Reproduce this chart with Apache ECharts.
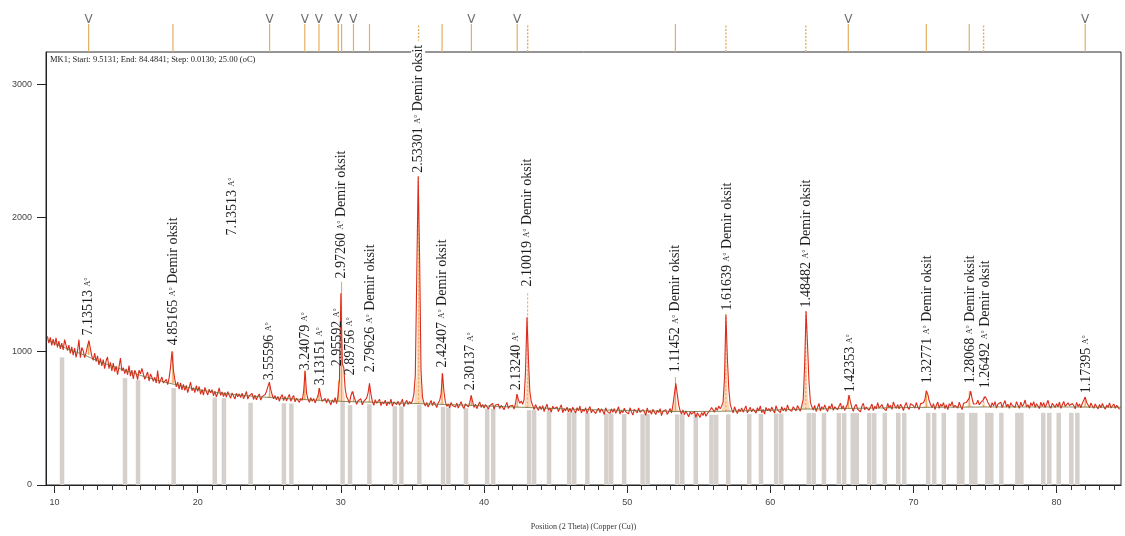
<!DOCTYPE html>
<html>
<head>
<meta charset="utf-8">
<script src="https://cdn.jsdelivr.net/npm/echarts@6/dist/echarts.min.js"></script>
<style>
  html, body { margin: 0; padding: 0; background: #fff; }
  #c { width: 1125px; height: 536px; }
</style>
</head>
<body>
<div id="c"></div>
<script>
// ---- scan: MK1, Cu radiation, counts every 0.1 degree 2-theta ----
const scanStart = 9.5;
const scanStep = 0.1;
const counts = [
  1112, 1062, 1104, 1045, 1092,
  1044, 1101, 1029, 1076, 1018, 1061, 1011, 1088, 1046, 1005,   // 10
  1047, 985, 1033, 971, 1025, 955, 1001, 1089, 953, 1029,       // 11
  1005, 953, 989, 1040, 1080, 1020, 965, 933, 987, 923,         // 12
  966, 898, 948, 892, 938, 870, 930, 958, 870, 918,             // 13
  854, 912, 849, 889, 826, 884, 950, 853, 878, 834,             // 14
  869, 825, 894, 814, 859, 793, 858, 834, 789, 859,             // 15
  832, 873, 862, 790, 786, 845, 778, 831, 806, 775,             // 16
  806, 763, 856, 760, 761, 808, 763, 753, 790, 751,             // 17
  800, 880, 1000, 860, 790, 735, 770, 718, 765, 712,            // 18
  752, 708, 745, 691, 731, 769, 706, 728, 692, 743,             // 19
  701, 737, 679, 715, 672, 730, 700, 674, 717, 689,             // 20
  713, 668, 702, 659, 688, 726, 671, 696, 662, 692,             // 21
  657, 698, 671, 650, 689, 666, 643, 686, 661, 682,             // 22
  654, 687, 646, 671, 700, 643, 669, 656, 685, 640,             // 23
  673, 638, 663, 681, 636, 661, 652, 676, 700, 702,             // 24
  770, 715, 675, 645, 669, 637, 663, 627, 659, 677,             // 25
  632, 663, 629, 654, 678, 627, 651, 670, 622, 649,             // 26
  662, 618, 647, 632, 700, 855, 690, 643, 619, 653,             // 27
  626, 648, 614, 641, 668, 725, 662, 626, 612, 648,             // 28
  613, 646, 625, 599, 637, 617, 653, 608, 668, 782,             // 29
  1435, 905, 880, 720, 660, 640, 612, 668, 700, 668,            // 30
  635, 603, 630, 616, 645, 600, 626, 612, 650, 690,             // 31
  760, 680, 625, 596, 638, 612, 602, 642, 594, 622,             // 32
  607, 635, 593, 623, 605, 642, 590, 621, 633, 602,             // 33
  626, 596, 618, 642, 587, 615, 633, 602, 624, 608,             // 34
  630, 680, 820, 1550, 2310, 1700, 850, 660, 615, 590,          // 35
  617, 583, 609, 633, 594, 623, 602, 580, 614, 632,             // 36
  680, 835, 700, 620, 588, 607, 578, 618, 594, 606,             // 37
  584, 612, 576, 600, 624, 590, 572, 608, 597, 584,             // 38
  614, 670, 628, 580, 605, 571, 598, 622, 580, 602,             // 39
  576, 602, 614, 569, 593, 583, 611, 567, 599, 588,             // 40
  604, 572, 596, 583, 563, 594, 618, 573, 591, 580,             // 41
  596, 568, 612, 680, 640, 612, 628, 605, 640, 850,             // 42
  1255, 950, 700, 625, 595, 565, 602, 578, 558, 590,            // 43
  564, 594, 550, 580, 605, 558, 576, 546, 590, 570,             // 44
  558, 584, 549, 577, 600, 541, 571, 555, 583, 548,             // 45
  572, 544, 583, 557, 539, 578, 555, 591, 539, 567,             // 46
  551, 579, 536, 567, 587, 540, 563, 577, 534, 558,             // 47
  574, 542, 570, 555, 528, 578, 551, 563, 536, 570,             // 48
  544, 572, 536, 560, 585, 531, 558, 541, 574, 548,             // 49
  562, 532, 578, 547, 523, 567, 554, 540, 576, 544,             // 50
  532, 564, 548, 521, 576, 541, 556, 530, 566, 547,             // 51
  527, 559, 543, 571, 519, 552, 538, 564, 528, 548,             // 52
  572, 540, 600, 680, 760, 680, 600, 555, 530, 562,             // 53
  526, 554, 540, 510, 546, 530, 520, 550, 506, 540,             // 54
  530, 506, 542, 520, 550, 514, 534, 525, 561, 580,             // 55
  568, 545, 580, 558, 592, 570, 590, 620, 800, 1275,            // 56
  950, 720, 605, 568, 540, 585, 557, 535, 568, 549,             // 57
  577, 545, 568, 592, 540, 561, 581, 547, 571, 557,             // 58
  538, 578, 554, 592, 541, 565, 531, 581, 557, 572,             // 59
  550, 583, 560, 538, 594, 563, 572, 541, 586, 556,             // 60
  577, 549, 600, 566, 579, 551, 586, 570, 554, 594,             // 61
  580, 552, 596, 640, 900, 1300, 1050, 780, 620, 585,           // 62
  561, 595, 550, 580, 611, 554, 586, 566, 600, 570,             // 63
  550, 590, 573, 609, 559, 585, 598, 565, 578, 612,             // 64
  568, 594, 558, 584, 608, 672, 620, 578, 552, 588,             // 65
  603, 567, 579, 547, 591, 611, 563, 583, 597, 559,             // 66
  582, 606, 556, 590, 570, 616, 576, 562, 602, 574,             // 67
  586, 556, 610, 578, 596, 566, 622, 590, 574, 602,             // 68
  569, 605, 585, 557, 593, 617, 581, 565, 609, 620,             // 69
  593, 575, 617, 585, 565, 609, 595, 615, 640, 705,             // 70
  680, 630, 600, 580, 609, 565, 597, 621, 574, 605,             // 71
  588, 616, 572, 600, 564, 608, 592, 624, 580, 596,             // 72
  604, 576, 620, 588, 564, 612, 600, 618, 630, 650,             // 73
  702, 645, 606, 592, 608, 634, 600, 616, 625, 640,             // 74
  662, 645, 618, 604, 580, 616, 592, 624, 576, 604,             // 75
  594, 620, 580, 608, 632, 584, 604, 574, 616, 596,             // 76
  608, 580, 624, 596, 574, 620, 588, 604, 636, 584,             // 77
  600, 574, 616, 592, 624, 580, 608, 594, 572, 620,             // 78
  588, 616, 580, 604, 634, 590, 574, 612, 596, 580,             // 79
  609, 585, 621, 573, 601, 625, 589, 577, 615, 595,             // 80
  582, 610, 594, 570, 618, 586, 606, 578, 612, 625,             // 81
  658, 618, 598, 578, 614, 590, 574, 606, 586, 570,             // 82
  602, 578, 610, 586, 566, 598, 582, 614, 576, 590,             // 83
  606, 574, 596, 582, 566                                       // 84
];

// ---- fitted background ----
const backgroundPos = [9.5, 10, 11, 12, 13, 14, 15, 16, 17, 18, 19, 20, 21, 22, 23, 24, 25, 26, 27, 28, 29, 30,
  32, 34, 36, 38, 40, 42, 44, 46, 48, 50, 52, 54, 56, 58, 60, 62, 64, 66, 68, 70, 72, 74, 76, 78, 80, 82, 84.5];
const backgroundCounts = [1085, 1060, 1015, 975, 930, 890, 855, 820, 790, 762, 738, 715, 697, 683, 672, 663, 655, 648, 642, 636, 631, 626,
  620, 614, 607, 600, 592, 584, 576, 568, 562, 558, 553, 550, 551, 555, 560, 567, 570, 574, 577, 580, 582, 583, 584, 584, 584, 583, 582];

// ---- identified peaks: position (2θ), fitted top, local background, half base width, marker kind ----
const peakPos       = [12.38, 18.27, 25.02, 27.48, 28.47, 29.82, 30.05, 30.88, 32.00, 35.43, 37.07, 39.12, 42.32, 43.05, 53.37, 56.90, 62.48, 65.45, 70.90, 73.90, 74.90, 82.00];
const peakTop       = [1080, 1000, 770, 855, 725, 782, 1520, 700, 760, 2310, 835, 670, 680, 1445, 808, 1276, 1300, 672, 705, 702, 662, 658];
const peakBase      = [975, 760, 655, 639, 634, 627, 626, 622, 620, 610, 604, 595, 582, 580, 551, 552, 568, 572, 580, 583, 584, 583];
const peakHalfWidth = [0.15, 0.2, 0.2, 0.15, 0.15, 0.15, 0.25, 0.15, 0.15, 0.3, 0.15, 0.15, 0.15, 0.25, 0.25, 0.3, 0.3, 0.2, 0.25, 0.25, 0.25, 0.2];
const peakKind      = ['v', 'solid', 'v', 'v', 'v', 'v', 'solid', 'v', 'solid', 'dot', 'solid', 'v', 'v', 'dot', 'solid', 'dot', 'dot', 'v', 'solid', 'solid', 'dot', 'v'];

// ---- peak annotations: position, anchor height, d-spacing, phase ----
const labelPos   = [12.36, 18.27, 22.40, 24.98, 27.50, 28.55, 29.74, 30.02, 30.64, 32.04, 35.40, 37.07, 39.05, 42.24, 43.01, 53.40, 56.97, 62.51, 65.56, 70.96, 73.97, 75.02, 82.06];
const labelAt    = [1119, 1045, 1866, 784, 858, 746, 888, 1545, 821, 843, 2336, 880, 709, 709, 1485, 843, 1306, 1328, 694, 761, 761, 724, 687];
const labelD     = ['7.13513', '4.85165', '7.13513', '3.55596', '3.24079', '3.13151', '2.95592', '2.97260', '2.89756', '2.79626', '2.53301', '2.42407',
  '2.30137', '2.13240', '2.10019', '1.11452', '1.61639', '1.48482', '1.42353', '1.32771', '1.28068', '1.26492', '1.17395'];
const labelPhase = ['', 'Demir oksit', '', '', '', '', '', 'Demir oksit', '', 'Demir oksit', 'Demir oksit', 'Demir oksit',
  '', '', 'Demir oksit', 'Demir oksit', 'Demir oksit', 'Demir oksit', '', 'Demir oksit', 'Demir oksit', 'Demir oksit', ''];

// ---- reference pattern sticks ----
const stickPos = [10.52, 14.92, 15.83, 18.32, 21.19, 21.83, 23.69, 26.02, 26.54, 30.12, 30.64, 31.99, 33.77, 34.23, 35.48,
  37.14, 37.51, 38.74, 40.22, 40.64, 43.15, 43.50, 44.54, 45.95, 46.30, 47.22, 48.55, 48.88, 49.79, 51.08, 51.43,
  53.50, 53.85, 54.79, 55.89, 56.22, 57.06, 58.53, 59.35, 60.41, 60.76, 62.69, 63.03, 63.75, 64.79, 65.16, 65.76, 66.04,
  66.91, 67.26, 68.00, 68.94, 69.36, 71.03, 71.45, 72.12, 73.18, 73.42, 74.04, 74.32, 75.16, 75.44, 76.14, 77.26, 77.54,
  79.07, 79.49, 80.15, 81.03, 81.45];
const stickCounts = [955, 800, 785, 725, 655, 650, 615, 612, 610, 625, 598, 605, 590, 588, 600,
  585, 580, 575, 572, 570, 560, 560, 553, 545, 545, 540, 535, 535, 532, 530, 530,
  528, 528, 525, 525, 525, 528, 530, 532, 535, 535, 538, 538, 538, 538, 538, 538, 538,
  538, 538, 540, 540, 540, 540, 540, 540, 540, 540, 540, 540, 540, 540, 540, 540, 540,
  540, 540, 540, 540, 540];

// ---- axes ----
const xTickLabels = [10, 20, 30, 40, 50, 60, 70, 80];
const xMinorTicks = [10, 11, 12, 13, 14, 15, 16, 17, 18, 19, 20, 21, 22, 23, 24, 25, 26, 27, 28, 29, 30, 31, 32, 33, 34, 35, 36, 37, 38, 39,
  40, 41, 42, 43, 44, 45, 46, 47, 48, 49, 50, 51, 52, 53, 54, 55, 56, 57, 58, 59, 60, 61, 62, 63, 64, 65, 66, 67, 68, 69,
  70, 71, 72, 73, 74, 75, 76, 77, 78, 79, 80, 81, 82, 83, 84];
const yTickLabels = [0, 1000, 2000, 3000];
const xMin = 9.4, xMax = 84.5, yMax = 3240;

const SERIF = '"Liberation Serif", "Times New Roman", serif';
const NARROW = '"Liberation Sans Narrow", "Liberation Sans", Arial, sans-serif';

const measureCtx = document.createElement('canvas').getContext('2d');
function textWidth(str, size) {
  measureCtx.font = size + 'px ' + SERIF;
  return measureCtx.measureText(str).width;
}

const chart = echarts.init(document.getElementById('c'), null, { renderer: 'canvas' });

const option = {
  animation: false,
  backgroundColor: '#fff',
  grid: [
    { left: 46, right: 4, top: 52, bottom: 51, show: true, borderColor: '#2a2a2a', borderWidth: 1, backgroundColor: 'transparent', containLabel: false },
    { left: 46, right: 4, top: 10, height: 42, show: false }
  ],
  xAxis: [
    {
      type: 'value', gridIndex: 0, position: 'bottom', min: xMin, max: xMax,
      axisLine: { lineStyle: { color: '#222', width: 1 } },
      axisTick: { show: true, inside: false, length: 8, customValues: xTickLabels, lineStyle: { color: '#222' } },
      axisLabel: { customValues: xTickLabels, margin: 13, fontSize: 9, fontFamily: NARROW, color: '#444', formatter: v => String(v) },
      splitLine: { show: false },
      name: 'Position (2 Theta) (Copper (Cu))', nameLocation: 'middle', nameGap: 38,
      nameTextStyle: { fontSize: 8, fontFamily: SERIF, color: '#333' }
    },
    {
      type: 'value', gridIndex: 0, position: 'bottom', offset: 0, min: xMin, max: xMax,
      axisLine: { show: false, onZero: false },
      axisTick: { show: true, inside: false, length: 5, customValues: xMinorTicks, lineStyle: { color: '#333' } },
      axisLabel: { show: false },
      splitLine: { show: false }
    },
    { type: 'value', gridIndex: 1, min: xMin, max: xMax, show: false }
  ],
  yAxis: [
    {
      type: 'value', gridIndex: 0, min: 0, max: yMax,
      axisLine: { show: true, lineStyle: { color: '#222', width: 1 } },
      axisTick: { show: true, inside: false, length: 9, customValues: yTickLabels, lineStyle: { color: '#222' } },
      axisLabel: { customValues: yTickLabels, margin: 14, fontSize: 9, fontFamily: NARROW, color: '#444', formatter: v => String(v) },
      splitLine: { show: false }
    },
    { type: 'value', gridIndex: 1, min: 0, max: 1, show: false }
  ],
  graphic: [
    {
      type: 'text', left: 50, top: 55, z: 10,
      style: { text: 'MK1; Start: 9.5131; End: 84.4841; Step: 0.0130; 25.00 (oC)', font: '8.5px ' + SERIF, fill: '#222' }
    }
  ],
  series: [
    // reference pattern sticks
    {
      type: 'bar', xAxisIndex: 0, yAxisIndex: 0, silent: true, z: 1,
      barWidth: 4.5,
      itemStyle: { color: '#d5d0cb' },
      data: stickPos.map((p, i) => [p, stickCounts[i]])
    },
    // fitted peak profiles and their position lines
    {
      type: 'custom', xAxisIndex: 0, yAxisIndex: 0, silent: true, z: 2,
      data: peakPos.map((p, i) => [p, peakTop[i], peakBase[i], peakHalfWidth[i], i]),
      renderItem(params, api) {
        const x = api.value(0), top = api.value(1), base = api.value(2), hw = api.value(3);
        const kind = peakKind[api.value(4)];
        const h = top - base;
        const pts = [
          [x - hw, base], [x - hw * 0.45, base + h * 0.12], [x - hw * 0.15, base + h * 0.55], [x, top],
          [x + hw * 0.15, base + h * 0.55], [x + hw * 0.45, base + h * 0.12], [x + hw, base]
        ].map(p => api.coord(p));
        const a = api.coord([x, base]);
        const b = api.coord([x, top]);
        return {
          type: 'group',
          children: [
            { type: 'polygon', shape: { points: pts }, style: { fill: 'rgba(246,186,130,0.55)' } },
            {
              type: 'line', shape: { x1: a[0], y1: a[1], x2: b[0], y2: b[1] },
              style: { stroke: '#efa04a', lineWidth: 1, lineDash: kind === 'dot' ? [2, 2] : null }
            }
          ]
        };
      }
    },
    // measured counts
    {
      type: 'line', xAxisIndex: 0, yAxisIndex: 0, silent: true, z: 3,
      showSymbol: false, symbol: 'none', sampling: null,
      lineStyle: { color: '#dc2a1b', width: 1.1 },
      data: counts.map((c, i) => [scanStart + i * scanStep, c])
    },
    // background
    {
      type: 'line', xAxisIndex: 0, yAxisIndex: 0, silent: true, z: 4,
      showSymbol: false, symbol: 'none', smooth: true,
      lineStyle: { color: '#6f6a30', width: 0.8 },
      data: backgroundPos.map((p, i) => [p, backgroundCounts[i]])
    },
    // peak annotations
    {
      type: 'custom', xAxisIndex: 0, yAxisIndex: 0, silent: true, z: 6,
      data: labelPos.map((p, i) => [p, labelAt[i]]),
      renderItem(params, api) {
        const i = params.dataIndex;
        const p = api.coord([api.value(0), api.value(1)]);
        let text = '{n|' + labelD[i] + ' }{a|A°}';
        let plain = labelD[i] + ' ';
        if (labelPhase[i]) { text += '{n| ' + labelPhase[i] + '}'; plain += ' ' + labelPhase[i]; }
        const len = textWidth(plain, 14) + textWidth('A°', 8);
        const crossesTop = p[1] - len < params.coordSys.y;
        return {
          type: 'text', x: p[0], y: p[1], rotation: Math.PI / 2,
          style: {
            text: text,
            align: 'left', verticalAlign: 'middle',
            backgroundColor: crossesTop ? '#fff' : null,
            padding: crossesTop ? [0, 4, 0, 0] : 0,
            rich: {
              n: { fontSize: 14, fontFamily: SERIF, fill: '#1c1c1c' },
              a: { fontSize: 8, fontFamily: SERIF, fill: '#1c1c1c' }
            }
          }
        };
      }
    },
    // peak markers above the plot
    {
      type: 'custom', xAxisIndex: 2, yAxisIndex: 1, silent: true, z: 5,
      data: peakPos.map((p, i) => [p, i]),
      renderItem(params, api) {
        const x = api.value(0);
        const kind = peakKind[api.value(1)];
        const a = api.coord([x, 0]);
        const b = api.coord([x, 0.667]);
        const children = [{
          type: 'line', shape: { x1: a[0], y1: a[1], x2: b[0], y2: b[1] },
          style: { stroke: '#e4ae62', lineWidth: kind === 'dot' ? 1.4 : 1.2, lineDash: kind === 'dot' ? [2, 1.5] : null }
        }];
        if (kind === 'v') {
          children.push({
            type: 'text', x: b[0], y: b[1] + 2,
            style: { text: 'V', align: 'center', verticalAlign: 'bottom', font: '12px "DejaVu Sans", sans-serif', fill: '#6e6e6e' }
          });
        }
        return { type: 'group', children };
      }
    }
  ]
};

chart.setOption(option);
</script>
</body>
</html>
